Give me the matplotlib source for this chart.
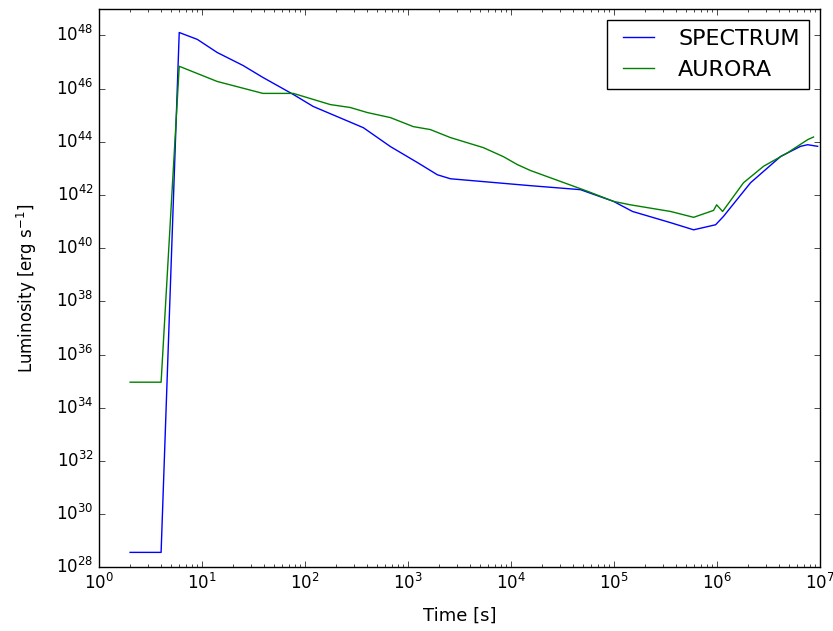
import matplotlib
matplotlib.use("Agg")
import matplotlib.pyplot as plt
from matplotlib.ticker import FixedLocator, NullLocator, LogLocator

# SPECTRUM (blue)
spec_t = [2, 4, 6.0, 9.0, 14, 25, 39, 77, 120, 369, 676, 1236, 1932, 2585,
          15500, 47400, 99300, 152000, 355000, 596000, 975000, 1160000,
          2130000, 4180000, 6530000, 7640000, 9550000]
spec_L = [28.56, 28.56, 48.11, 47.85, 47.36, 46.87, 46.42, 45.78, 45.33, 44.53, 43.82,
          43.22, 42.76, 42.61, 42.35, 42.2, 41.76, 41.38, 40.96, 40.69, 40.88, 41.19,
          42.46, 43.45, 43.83, 43.89, 43.83]

# AURORA (green)
aur_t = [2, 4, 6.0, 14, 39, 77, 176, 275, 403, 675, 1130, 1650, 2580,
         5410, 8470, 11600, 15500, 30300, 55500, 99300, 145000, 356000,
         596000, 931000, 998000, 1140000, 1820000, 2850000, 4890000,
         7640000, 8710000]
aur_L = [34.96, 34.96, 46.84, 46.27, 45.82, 45.82, 45.40, 45.29, 45.10, 44.91, 44.57,
         44.46, 44.16, 43.78, 43.44, 43.14, 42.92, 42.51, 42.14, 41.76, 41.63, 41.38,
         41.16, 41.42, 41.63, 41.38, 42.46, 43.08, 43.59, 44.08, 44.18]

y_exps = list(range(28, 50, 2))
y_tick_labels = [r"$10^{%d}$" % e for e in y_exps]

plt.style.use("classic")
plt.rcParams["figure.facecolor"] = "white"
plt.rcParams["savefig.facecolor"] = "white"
plt.rcParams["font.family"] = ["DejaVu Sans"]
plt.rcParams["mathtext.default"] = "regular"

fig = plt.figure(figsize=(8.33, 6.31), dpi=100)
ax = fig.add_axes([0.119, 0.101, 0.865, 0.885])

ax.plot(spec_t, [10 ** v for v in spec_L], color="b", label="SPECTRUM")
ax.plot(aur_t, [10 ** v for v in aur_L], color="g", label="AURORA")

ax.set_xscale("log")
ax.set_yscale("log")
ax.set_xlim(1, 1e7)
ax.set_ylim(1e28, 1e49)

ax.yaxis.set_major_locator(FixedLocator([10.0 ** e for e in y_exps]))
ax.set_yticklabels(y_tick_labels)
ax.yaxis.set_minor_locator(NullLocator())
ax.xaxis.set_major_locator(LogLocator(base=10, numticks=20))
ax.xaxis.set_minor_locator(LogLocator(base=10, subs=range(2, 10), numticks=100))

ax.tick_params(labelsize=12)
ax.set_xlabel("Time [s]", fontsize=13, labelpad=10)
ax.set_ylabel(r"Luminosity [erg s$^{-1}$]", fontsize=12, labelpad=12)

ax.legend(loc="upper right", fontsize=16)

fig.savefig("out.png", dpi=100)
